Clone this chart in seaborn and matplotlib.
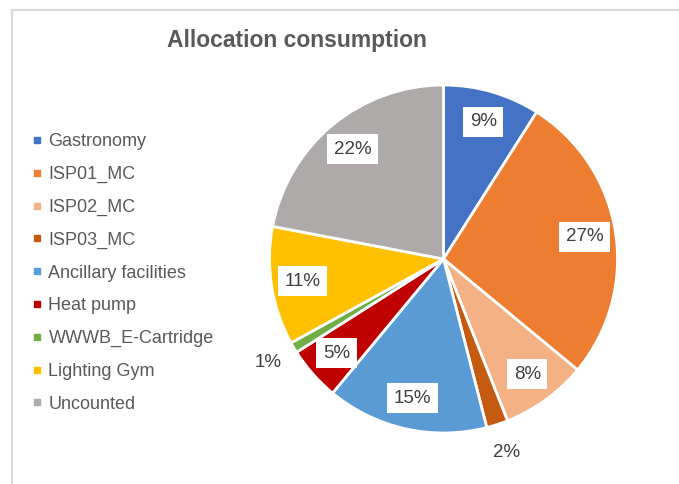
import matplotlib
matplotlib.use("Agg")
import matplotlib.pyplot as plt
import seaborn as sns
import numpy as np
from matplotlib.lines import Line2D
from matplotlib.patches import Rectangle

categories = ["Gastronomy", "ISP01_MC", "ISP02_MC", "ISP03_MC", "Ancillary facilities",
              "Heat pump", "WWWB_E-Cartridge", "Lighting Gym", "Uncounted"]
values = [9, 27, 8, 2, 15, 5, 1, 11, 22]
colors = ["#4472C4", "#ED7D31", "#F4B183", "#C55A11", "#5B9BD5",
          "#C00000", "#70AD47", "#FFC000", "#AEAAAA"]
title = "Allocation consumption"

sns.set_theme(style="white")
plt.rcParams['font.family'] = ['Liberation Sans', 'DejaVu Sans']
palette = sns.color_palette(colors)

W, H = 679, 484
fig = plt.figure(figsize=(W / 100, H / 100), dpi=100)
fig.patch.set_facecolor("white")

# frame border
fig.patches.append(Rectangle((12 / W, -0.1), 1.2, 1 - 10 / H + 0.1, transform=fig.transFigure,
                             fill=False, ec="#D9D9D9", lw=1.6))

cx, cy, r = 443.5, 259, 174
ax = fig.add_axes([(cx - r) / W, (H - cy - r) / H, 2 * r / W, 2 * r / H])
wedges, _ = ax.pie(values, colors=palette, startangle=90, counterclock=False,
                   wedgeprops=dict(edgecolor="white", linewidth=2))
ax.set_xlim(-1, 1)
ax.set_ylim(-1, 1)
ax.set_aspect("equal")
ax.axis("off")

tot = sum(values)
for w, v in zip(wedges, values):
    ang = np.deg2rad((w.theta1 + w.theta2) / 2)
    small = v / tot < 0.03
    d = 1.17 if small else 0.82
    x, y = d * np.cos(ang), d * np.sin(ang)
    kw = {}
    if not small:
        kw["bbox"] = dict(boxstyle="square,pad=0.35", fc="white", ec="none")
    ax.text(x, y, f"{v}%", ha="center", va="center", fontsize=13.5,
            color="#404040", **kw)

fig.text(297 / W, 1 - 40 / H, title, ha="center", va="center",
         fontsize=16.5, fontweight="bold", color="#595959")

handles = [Line2D([0], [0], marker="s", linestyle="none", markersize=5,
                  markerfacecolor=c, markeredgecolor=c) for c in colors]
fig.legend(handles, categories, loc="center left", bbox_to_anchor=(25 / W, 1 - 273 / H),
           frameon=False, fontsize=13, labelcolor="#595959", handlelength=0.55,
           handletextpad=0.35, labelspacing=0.87, borderaxespad=0)

fig.savefig("out.png", dpi=100)
